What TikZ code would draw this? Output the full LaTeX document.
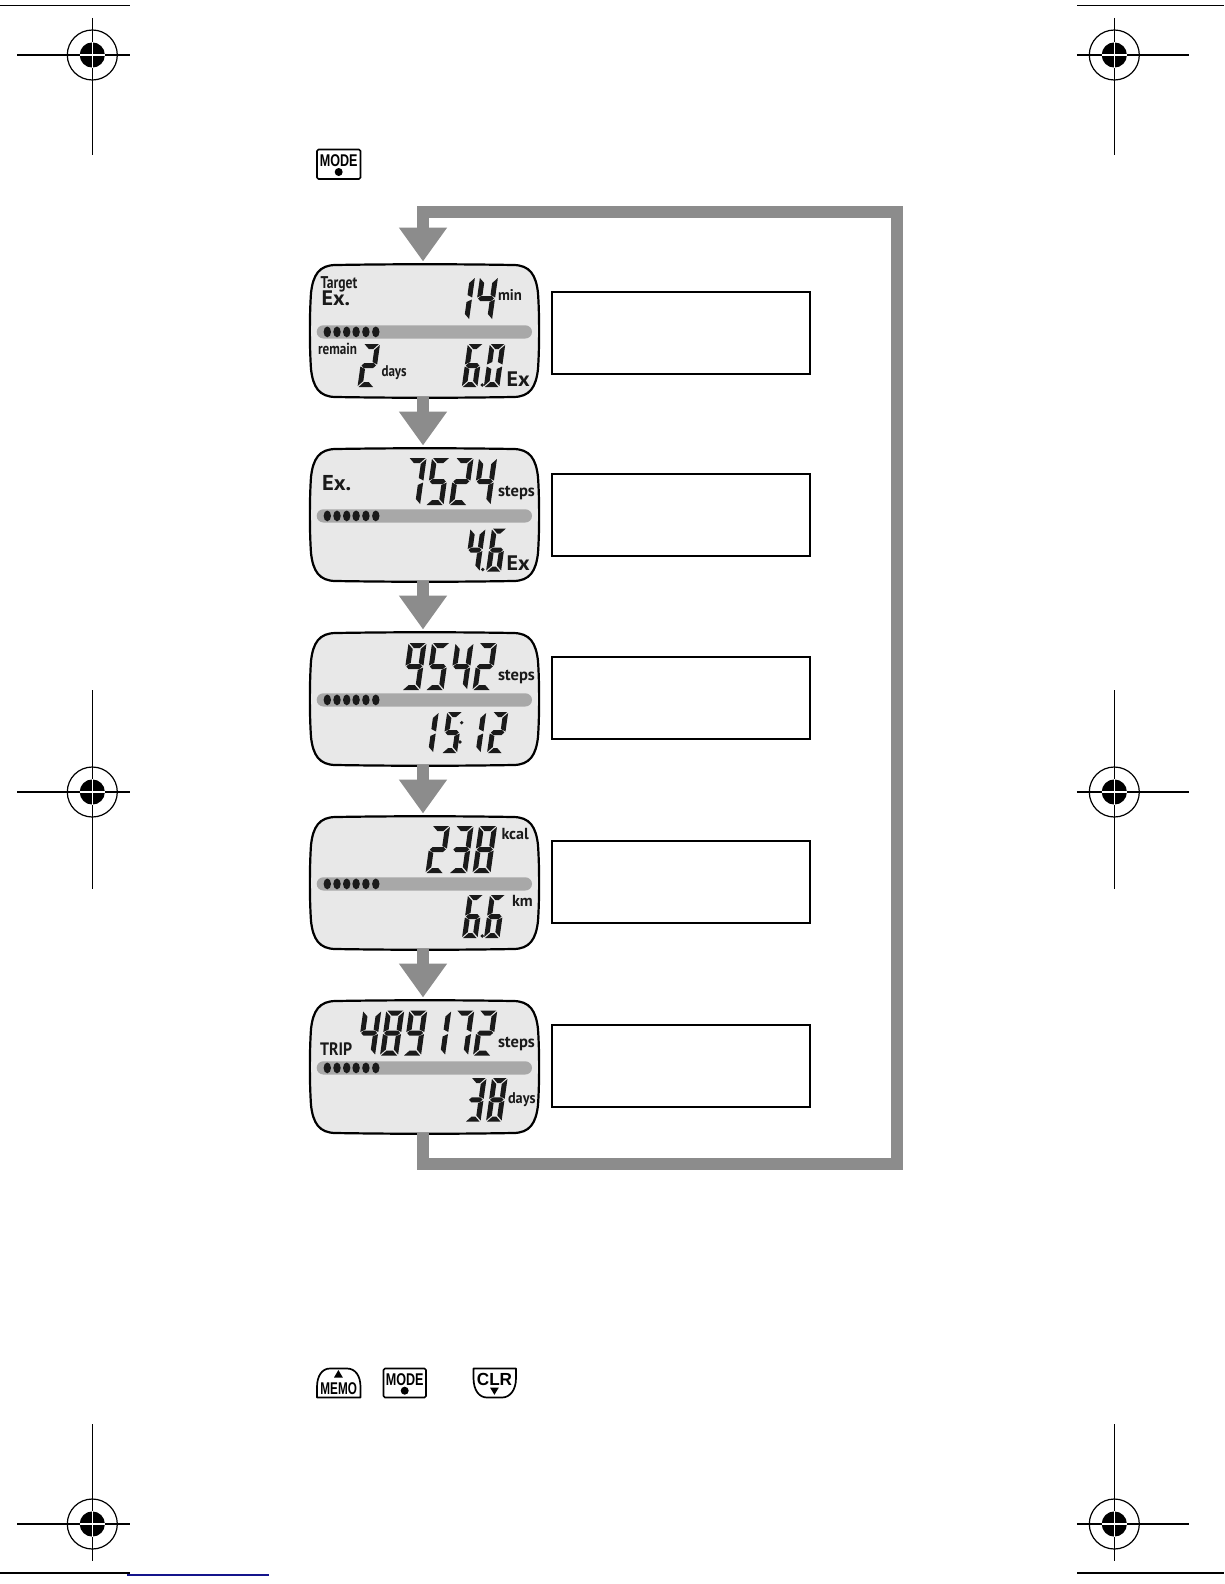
\documentclass[tikz,border=0pt]{standalone}
\usepackage{graphicx}
\usepackage{fontspec}
\setmainfont{PT Sans}
\newfontfamily\btnfont{Liberation Sans}
\usetikzlibrary{arrows.meta}
\definecolor{flowgray}{HTML}{8C8C8C}
\definecolor{lcdfill}{HTML}{E8E8E8}
\definecolor{barfill}{HTML}{A8A8A8}
\definecolor{segdark}{HTML}{1A1A1A}
\definecolor{edgeblue}{HTML}{14148C}
\tikzset{
  lcdnode/.style={minimum width=229pt,minimum height=132pt,inner sep=0pt,outer sep=0pt},
  memobox/.style={draw=black,line width=2pt,fill=white,minimum width=258pt,minimum height=82pt,inner sep=0pt,anchor=north west},
  flowline/.style={draw=flowgray,line width=12pt,-{Triangle[length=34pt,width=46pt]},shorten >=3.5pt},
  looptrack/.style={flowline,line join=miter},
  lb/.style={anchor=base west,inner sep=0pt,outer sep=0pt,text=segdark},
  btnlabel/.style={anchor=base,inner sep=0pt,outer sep=0pt,text=black},
  btn/.style={draw=black,line width=1.7pt,fill=white,line join=round},
  reg/.style={draw=black,line width=1.2pt}
}
% seven segments in a cell: (0,0) bottom left, (W,-H) top right
\def\sgG{1.0}
\newcommand{\segA}{\fill (\sgG,-\sgH) -- (\sgW-\sgG,-\sgH) -- (\sgW-\sgG-\sgT,-\sgH+\sgT) -- (\sgG+\sgT,-\sgH+\sgT) -- cycle;}
\newcommand{\segD}{\fill (\sgG,0) -- (\sgW-\sgG,0) -- (\sgW-\sgG-\sgT,-\sgT) -- (\sgG+\sgT,-\sgT) -- cycle;}
\newcommand{\segM}{\fill (\sgG,-\sgH/2) -- (\sgG+\sgT/2,-\sgH/2-\sgT/2) -- (\sgW-\sgG-\sgT/2,-\sgH/2-\sgT/2) -- (\sgW-\sgG,-\sgH/2) -- (\sgW-\sgG-\sgT/2,-\sgH/2+\sgT/2) -- (\sgG+\sgT/2,-\sgH/2+\sgT/2) -- cycle;}
\newcommand{\segF}{\fill (0,-\sgH+\sgG) -- (\sgT,-\sgH+\sgG+\sgT) -- (\sgT,-\sgH/2-\sgG-\sgT/2) -- (0,-\sgH/2-\sgG) -- cycle;}
\newcommand{\segE}{\fill (0,-\sgG) -- (\sgT,-\sgG-\sgT) -- (\sgT,-\sgH/2+\sgG+\sgT/2) -- (0,-\sgH/2+\sgG) -- cycle;}
\newcommand{\segB}{\fill (\sgW,-\sgH+\sgG) -- (\sgW-\sgT,-\sgH+\sgG+\sgT) -- (\sgW-\sgT,-\sgH/2-\sgG-\sgT/2) -- (\sgW,-\sgH/2-\sgG) -- cycle;}
\newcommand{\segC}{\fill (\sgW,-\sgG) -- (\sgW-\sgT,-\sgG-\sgT) -- (\sgW-\sgT,-\sgH/2+\sgG+\sgT/2) -- (\sgW,-\sgH/2+\sgG) -- cycle;}
\expandafter\def\csname lcdD0\endcsname{\segA\segB\segC\segD\segE\segF}
\expandafter\def\csname lcdD1\endcsname{\segB\segC}
\expandafter\def\csname lcdD2\endcsname{\segA\segB\segM\segE\segD}
\expandafter\def\csname lcdD3\endcsname{\segA\segB\segM\segC\segD}
\expandafter\def\csname lcdD4\endcsname{\segF\segB\segM\segC}
\expandafter\def\csname lcdD5\endcsname{\segA\segF\segM\segC\segD}
\expandafter\def\csname lcdD6\endcsname{\segA\segF\segM\segE\segC\segD}
\expandafter\def\csname lcdD7\endcsname{\segA\segB\segC}
\expandafter\def\csname lcdD8\endcsname{\segA\segB\segC\segD\segE\segF\segM}
\expandafter\def\csname lcdD9\endcsname{\segA\segB\segC\segD\segF\segM}
% x0, ybottom, H, W, pitch, digits
\newcommand{\lcdnum}[6]{%
  \def\sgH{#3}\def\sgW{#4}\def\sgT{5}%
  \foreach \dg [count=\ii from 0] in {#6} {
    \begin{scope}[shift={(#1+\ii*#5,#2)},xslant=0.14,fill=segdark]
      \csname lcdD\dg\endcsname
    \end{scope}
  }%
}
\newcommand{\lcdpanel}[2]{%
  \node[lcdnode,anchor=north] (#1) at (423,#2) {};
  \begin{scope}[shift={(310,#2)}]
    \draw[black,line width=2.2pt,fill=lcdfill] (26,0) .. controls (85,-1) and (145,-1) .. (203,0)
      .. controls (220,0) and (226,10) .. (228,28)
      .. controls (229.5,50) and (229.5,82) .. (228,104)
      .. controls (226,122) and (220,132) .. (203,132)
      .. controls (145,133) and (85,133) .. (26,132)
      .. controls (9,132) and (3,122) .. (1,104)
      .. controls (-0.5,82) and (-0.5,50) .. (1,28)
      .. controls (3,10) and (9,0) .. (26,0) -- cycle;
    \fill[barfill,rounded corners=6.6pt] (6.7,60.3) rectangle (222,73.5);
    \foreach \qx in {17.3,27,36.7,46.1,55.9,65.8}
      \fill[segdark] (\qx,66.9) ellipse [x radius=3.7,y radius=5.4];
  \end{scope}
}
% x, y, vertical from, vertical to, left arm, right arm
\newcommand{\regmark}[6]{%
  \draw[reg] (#1-#5,#2) -- (#1+#6,#2);
  \draw[reg] (#1,#3) -- (#1,#4);
  \draw[black,line width=1.2pt] (#1,#2) circle [radius=25];
  \fill[black] (#1,#2) circle [radius=12.6];
  \draw[white,line width=1.2pt] (#1-12.6,#2) -- (#1+12.6,#2) (#1,#2-12.6) -- (#1,#2+12.6);
}
\newcommand{\lbl}[6]{\node[lb,font=\fontsize{#4}{#4}\selectfont\bfseries] (#1) at (#2,#3) {\scalebox{#5}[1]{#6}};}
\begin{document}
\begin{tikzpicture}[x=1pt,y=-1pt]
\useasboundingbox (0,0) rectangle (1224,1584);
\fill[white] (0,0) rectangle (1224,1584);
% registration marks
\regmark{92.3}{55}{18}{155}{75}{37.5}
\regmark{1114.3}{55}{18}{155}{37.5}{75}
\regmark{92.3}{792}{690}{889}{75}{37.5}
\regmark{1114.3}{792}{690}{889}{37.5}{75}
\regmark{92.3}{1524}{1424}{1561}{75}{37.5}
\regmark{1114.3}{1524}{1424}{1561}{37.5}{75}
\draw[reg] (0,5.3) -- (130,5.3);
\draw[reg] (1077,5.3) -- (1224,5.3);
\draw[reg] (0,1573) -- (130,1573);
\draw[reg] (1077,1573) -- (1224,1573);
\draw[edgeblue,line width=1.2pt] (127,1575) -- (269,1575);
% panels
\lcdpanel{lcdA}{265}
\lcdpanel{lcdB}{449}
\lcdpanel{lcdC}{633}
\lcdpanel{lcdD}{817}
\lcdpanel{lcdE}{1001}
% connectors
\coordinate (loopB) at (897,1163.5);
\coordinate (loopT) at (897,212);
\draw[flowline] (lcdA.south) -- (lcdB.north);
\draw[flowline] (lcdB.south) -- (lcdC.north);
\draw[flowline] (lcdC.south) -- (lcdD.north);
\draw[flowline] (lcdD.south) -- (lcdE.north);
\draw[looptrack] (lcdE.south) |- (loopB) -- (loopT) -- (loopT -| lcdA.north) -- (lcdA.north);
% empty boxes
\node[memobox] (memoA) at (550.5,290.5) {};
\node[memobox] (memoB) at (550.5,472.5) {};
\node[memobox] (memoC) at (550.5,656) {};
\node[memobox] (memoD) at (550.5,840) {};
\node[memobox] (memoE) at (550.5,1023.5) {};
% panel A
\lbl{tTarget}{320.5}{288}{17}{.8}{Target}
\lbl{tExA}{321.5}{305.5}{21}{1.05}{Ex.}
\lbl{tRemain}{318}{354}{16}{.82}{remain}
\lbl{tMin}{498}{300}{15.5}{.95}{min}
\lbl{tDaysA}{381.5}{376}{15.5}{.84}{days}
\lbl{tExAb}{506.5}{386}{21}{1.05}{Ex}
\lcdnum{451}{320}{43}{18}{23}{1,4}
\lcdnum{357.5}{387}{43}{16.5}{21}{2}
\lcdnum{461.8}{387}{43}{15.5}{22}{6,0}
\fill[segdark] (482.3,385) circle [radius=1.9];
% panel B
\lbl{tExB}{322}{490}{21.5}{1.05}{Ex.}
\lbl{tStepsB}{498}{496.5}{16.5}{1}{steps}
\lbl{tExBb}{506.5}{570}{21}{1.05}{Ex}
\lcdnum{402}{505}{47}{18}{23.5}{7,5,2,4}
\lcdnum{464.5}{571.5}{43}{15}{21.5}{4,6}
\fill[segdark] (482.8,569.5) circle [radius=1.9];
% panel C
\lbl{tStepsC}{498}{680}{16.5}{1}{steps}
\lcdnum{402}{690}{47}{18}{23.5}{9,5,4,2}
\lcdnum{417.5}{753}{41}{15.5}{24}{1,5}
\lcdnum{465}{753}{41}{15.5}{22}{1,2}
\fill[segdark] (461.7,722.7) circle [radius=1.8] (460,742) circle [radius=1.8];
% panel D
\lbl{tKcal}{501.5}{839.5}{16}{1}{kcal}
\lbl{tKm}{512}{906.5}{16}{1}{km}
\lcdnum{425.5}{873}{47}{18}{23.5}{2,3,8}
\lcdnum{462}{938}{43}{15.5}{22}{6,6}
\fill[segdark] (482.3,936) circle [radius=1.9];
% panel E
\lbl{tTrip}{320}{1055.5}{18}{.88}{TRIP}
\lbl{tStepsE}{498}{1047}{16.5}{1}{steps}
\lbl{tDaysE}{508}{1103.5}{15.5}{.92}{days}
\lcdnum{357}{1055.5}{45}{18}{23}{4,8,9}
\lcdnum{427}{1055.5}{45}{18}{23}{1,7,2}
\lcdnum{465}{1121.5}{43.5}{15.5}{21}{3,8}
% buttons
\draw[btn,rounded corners=1.5pt] (317,149.5) rectangle (360.5,179);
\node[btnlabel,font=\btnfont\fontsize{17}{17}\selectfont\bfseries] (bModeA) at (338.7,166) {\scalebox{.74}[1]{MODE}};
\fill[black] (338.7,172) circle [radius=4];
\draw[btn] (317,1397.5) -- (317,1387) .. controls (317,1376) and (322,1368.5) .. (330,1368.5) -- (347,1368.5) .. controls (355.5,1368.5) and (360.5,1376) .. (360.5,1387) -- (360.5,1397.5) -- cycle;
\fill[black] (338.4,1370) -- (342.8,1377.5) -- (334,1377.5) -- cycle;
\node[btnlabel,font=\btnfont\fontsize{17}{17}\selectfont\bfseries] (bMemo) at (338.7,1394.2) {\scalebox{.69}[1]{MEMO}};
\draw[btn,rounded corners=1.5pt] (383.5,1368.5) rectangle (426,1397.5);
\node[btnlabel,font=\btnfont\fontsize{17}{17}\selectfont\bfseries] (bModeB) at (404.7,1385) {\scalebox{.74}[1]{MODE}};
\fill[black] (404.7,1390.7) circle [radius=4];
\draw[btn] (473.5,1368.5) -- (516,1368.5) -- (516,1378) .. controls (516,1390) and (510,1397.5) .. (502,1397.5) -- (487,1397.5) .. controls (479,1397.5) and (473.5,1390) .. (473.5,1378) -- cycle;
\node[btnlabel,font=\btnfont\fontsize{17.5}{17.5}\selectfont\bfseries] (bClr) at (494.5,1385) {\scalebox{.98}[1]{CLR}};
\fill[black] (494.4,1394.8) -- (490,1387.5) -- (498.8,1387.5) -- cycle;
\end{tikzpicture}
\end{document}
